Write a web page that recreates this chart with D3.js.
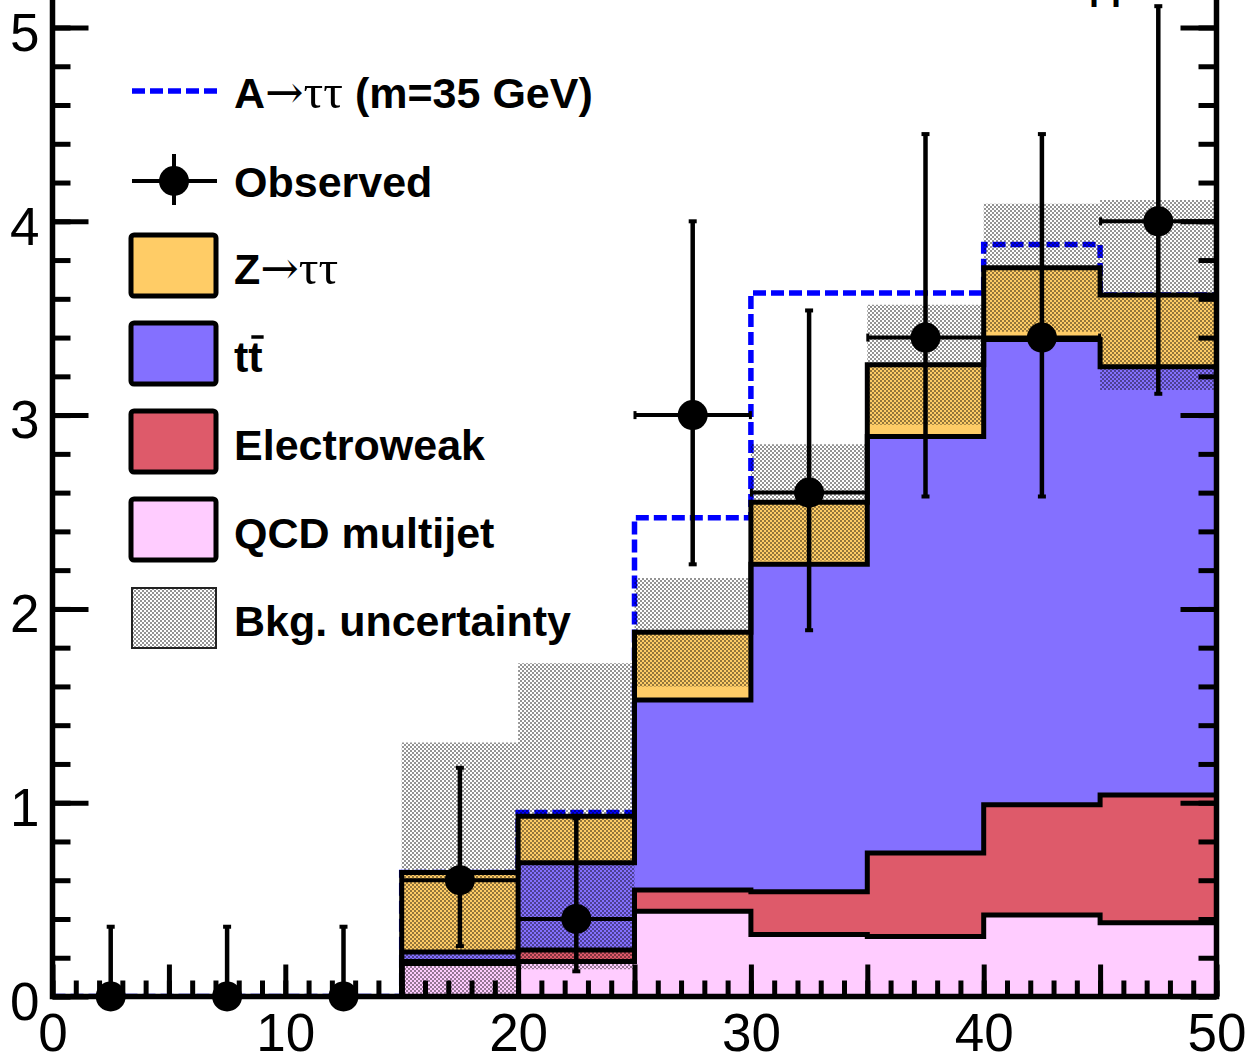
<!DOCTYPE html>
<html>
<head>
<meta charset="utf-8">
<script src="https://cdn.jsdelivr.net/npm/d3@7/dist/d3.min.js"></script>
<style>
    body { margin: 0; background: #ffffff; }
    svg { display: block; }
    text { font-family: "Liberation Sans", Arial, Helvetica, sans-serif; }
</style>
</head>
<body>
<div id="chart"></div>
<script>
"use strict";

const binEdges = [0, 5, 10, 15, 20, 25, 30, 35, 40, 45, 50];
const qcdMultijet = [0, 0, 0, 0.17, 0.18, 0.44, 0.32, 0.31, 0.42, 0.38];
const electroweak = [0, 0, 0, 0.01, 0.06, 0.11, 0.22, 0.43, 0.57, 0.66];
const ttbar = [0, 0, 0, 0.05, 0.45, 0.98, 1.69, 2.15, 2.40, 2.21];
const zTauTau = [0, 0, 0, 0.41, 0.24, 0.35, 0.32, 0.37, 0.37, 0.37];
const bkgUncertainty = [0, 0, 0, 0.67, 0.79, 0.28, 0.30, 0.31, 0.33, 0.49];
const signalA35 = [0, 0, 0, 0, 0.02, 0.59, 1.08, 0.37, 0.12, 0];
const observed = [0, 0, 0, 0.6, 0.4, 3.0, 2.6, 3.4, 3.4, 4.0];
const observedErrUp = [0.36, 0.36, 0.36, 0.58, 0.52, 1.0, 0.94, 1.05, 1.05, 1.11];
const observedErrDown = [0, 0, 0, 0.34, 0.27, 0.77, 0.71, 0.82, 0.82, 0.89];
const xTickLabels = [0, 10, 20, 30, 40, 50];
const yTickLabels = [0, 1, 2, 3, 4, 5];

const processKeys = ["qcd", "ew", "tt", "z"];
const processColors = {
    qcd: "#ffccff",
    ew : "#de5a6a",
    tt : "#8470ff",
    z  : "#ffcc66"
};

const W = 1247, H = 1057;
const x = d3.scaleLinear().domain([0, 50]).range([52.5, 1216.5]);
const y = d3.scaleLinear().domain([0, 5]).range([996.5, 27.5]);

const rows = binEdges.slice(0, -1).map((lo, i) => ({
    lo  : lo,
    hi  : binEdges[i + 1],
    qcd : qcdMultijet[i],
    ew  : electroweak[i],
    tt  : ttbar[i],
    z   : zTauTau[i],
    unc : bkgUncertainty[i],
    sig : signalA35[i],
    obs : observed[i],
    up  : observedErrUp[i],
    dn  : observedErrDown[i]
}));
const layers = d3.stack().keys(processKeys)(rows);
const total = layers[layers.length - 1].map(d => d[1]);

// each bin becomes two points so the paths come out as steps
const steps = (vals) => vals.flatMap((v, i) => [
    Object.assign({x: rows[i].lo, i: i}, v),
    Object.assign({x: rows[i].hi, i: i}, v)
]);

const svg = d3.select("#chart").append("svg")
              .attr("width", W)
              .attr("height", H);

const defs = svg.append("defs");
const checker = defs.append("pattern")
                    .attr("id", "checker")
                    .attr("patternUnits", "userSpaceOnUse")
                    .attr("width", 4)
                    .attr("height", 4);
checker.append("rect").attr("x", 0).attr("y", 0).attr("width", 2).attr("height", 2)
       .attr("fill", "rgba(0,0,0,0.42)");
checker.append("rect").attr("x", 2).attr("y", 2).attr("width", 2).attr("height", 2)
       .attr("fill", "rgba(0,0,0,0.42)");
defs.append("clipPath").attr("id", "plotclip")
    .append("rect")
    .attr("x", x(0)).attr("y", y(5.4))
    .attr("width", x(50) - x(0)).attr("height", y(0) - y(5.4));

const plot = svg.append("g").attr("clip-path", "url(#plotclip)");

// signal stacked on top of the total background, sits behind the stack
plot.append("path")
    .datum(steps(rows.map((r, i) => ({v: total[i] + r.sig}))))
    .attr("fill", "none")
    .attr("stroke", "#0000ff")
    .attr("stroke-width", 5.5)
    .attr("stroke-dasharray", "13,5")
    .attr("d", d3.line().x(d => x(d.x)).y(d => y(d.v)));

const area = d3.area()
               .x(d => x(d.x))
               .y0(d => y(d.y0))
               .y1(d => y(d.y1));
const topLine = d3.line()
                  .x(d => x(d.x))
                  .y(d => y(d.y1));

layers.forEach(layer => {
    const pts = steps(layer.map(d => ({y0: d[0], y1: d[1]})));
    plot.append("path")
        .datum(pts)
        .attr("fill", processColors[layer.key])
        .attr("stroke", processColors[layer.key])
        .attr("stroke-width", 0.6)
        .attr("d", area);
});
layers.forEach(layer => {
    const pts = steps(layer.map(d => ({y0: d[0], y1: d[1]})));
    plot.append("path")
        .datum(pts)
        .attr("fill", "none")
        .attr("stroke", "#000")
        .attr("stroke-width", 5)
        .attr("stroke-linejoin", "miter")
        .attr("d", topLine);
});

// background uncertainty band
plot.append("path")
    .datum(steps(rows.map((r, i) => ({
        y0 : Math.max(0, total[i] - r.unc),
        y1 : total[i] + r.unc,
        u  : r.unc
    }))))
    .attr("fill", "url(#checker)")
    .attr("d", area.defined(d => d.u > 0));

// frame and ticks
const axisStyle = g => {
    g.select(".domain").remove();
    g.selectAll(".tick line").attr("stroke", "#000").attr("stroke-width", 5);
    g.selectAll(".tick text")
     .attr("fill", "#000")
     .style("font-size", "53px")
     .style("font-family", "'Liberation Sans', Arial, sans-serif");
};
const bottom = svg.append("g").attr("transform", `translate(0,${y(0)})`);
bottom.append("g").call(d3.axisBottom(x).tickValues(d3.range(0, 51, 1)).tickSize(-16).tickFormat("")).call(axisStyle);
bottom.append("g").call(d3.axisBottom(x).tickValues(d3.range(0, 51, 5)).tickSize(-32).tickFormat("")).call(axisStyle);
bottom.append("g").call(d3.axisBottom(x).tickValues(xTickLabels).tickSize(0).tickPadding(17).tickFormat(d3.format("d"))).call(axisStyle);

const left = svg.append("g").attr("transform", `translate(${x(0)},0)`);
left.append("g").call(d3.axisLeft(y).tickValues(d3.range(0, 5.3, 0.2)).tickSize(-18).tickFormat("")).call(axisStyle);
left.append("g").call(d3.axisLeft(y).tickValues(yTickLabels).tickSize(-36).tickFormat("")).call(axisStyle);
left.append("g").call(d3.axisLeft(y).tickValues(yTickLabels).tickSize(0).tickPadding(13).tickFormat(d3.format("d")))
    .call(axisStyle)
    .call(g => g.selectAll(".tick text").attr("dy", "0.43em"));

const right = svg.append("g").attr("transform", `translate(${x(50)},0)`);
right.append("g").call(d3.axisRight(y).tickValues(d3.range(0, 5.3, 0.2)).tickSize(-18).tickFormat("")).call(axisStyle);
right.append("g").call(d3.axisRight(y).tickValues(yTickLabels).tickSize(-36).tickFormat("")).call(axisStyle);

svg.append("rect")
   .attr("x", x(0))
   .attr("y", y(5.4))
   .attr("width", x(50) - x(0))
   .attr("height", y(0) - y(5.4))
   .attr("fill", "none")
   .attr("stroke", "#000")
   .attr("stroke-width", 5.5);

// observed data
const pts = svg.append("g").selectAll("g").data(rows).enter().append("g");
pts.append("line")
   .attr("x1", d => x(d.lo)).attr("x2", d => x(d.hi))
   .attr("y1", d => y(d.obs)).attr("y2", d => y(d.obs))
   .attr("stroke", "#000").attr("stroke-width", 4);
pts.append("line")
   .attr("x1", d => x((d.lo + d.hi) / 2)).attr("x2", d => x((d.lo + d.hi) / 2))
   .attr("y1", d => y(d.obs - d.dn)).attr("y2", d => y(d.obs + d.up))
   .attr("stroke", "#000").attr("stroke-width", 4.5);
pts.append("rect")
   .attr("x", d => x((d.lo + d.hi) / 2) - 4).attr("y", d => y(d.obs + d.up) - 2)
   .attr("width", 8).attr("height", 4).attr("fill", "#000");
pts.filter(d => d.dn > 0).append("rect")
   .attr("x", d => x((d.lo + d.hi) / 2) - 4).attr("y", d => y(d.obs - d.dn) - 2)
   .attr("width", 8).attr("height", 4).attr("fill", "#000");
pts.filter(d => d.obs > 0).append("rect")
   .attr("x", d => x(d.lo) - 1).attr("y", d => y(d.obs) - 4)
   .attr("width", 3).attr("height", 8).attr("fill", "#000");
pts.filter(d => d.obs > 0).append("rect")
   .attr("x", d => x(d.hi) - 2).attr("y", d => y(d.obs) - 4)
   .attr("width", 3).attr("height", 8).attr("fill", "#000");
pts.append("circle")
   .attr("cx", d => x((d.lo + d.hi) / 2))
   .attr("cy", d => y(d.obs))
   .attr("r", 15)
   .attr("fill", "#000");

// legend
const legend = svg.append("g").attr("class", "legend");
const rowY = i => 93 + i * 88;
const textX = 234;
const labelFont = g => g.style("font-size", "43px").style("font-weight", "bold").attr("fill", "#000");
const tauPart = (t) => {
    t.append("tspan")
     .style("font-family", "'DejaVu Serif', serif")
     .style("font-weight", "normal")
     .style("font-size", "46px")
     .text("\u2192");
    t.append("tspan")
     .style("font-family", "'Liberation Serif', 'Times New Roman', serif")
     .style("font-weight", "normal")
     .style("font-size", "49px")
     .text("\u03c4\u03c4");
};

legend.append("line")
      .attr("x1", 132).attr("x2", 217).attr("y1", rowY(0) - 2).attr("y2", rowY(0) - 2)
      .attr("stroke", "#0000ff").attr("stroke-width", 5.5).attr("stroke-dasharray", "13,5");
const sigText = legend.append("text").attr("x", textX).attr("y", rowY(0) + 15).call(labelFont);
sigText.append("tspan").text("A");
tauPart(sigText);
sigText.append("tspan").text(" (m=35 GeV)");

legend.append("line")
      .attr("x1", 132).attr("x2", 217).attr("y1", rowY(1)).attr("y2", rowY(1))
      .attr("stroke", "#000").attr("stroke-width", 4);
legend.append("line")
      .attr("x1", 174).attr("x2", 174).attr("y1", rowY(1) - 27).attr("y2", rowY(1) + 24)
      .attr("stroke", "#000").attr("stroke-width", 4);
legend.append("circle").attr("cx", 174).attr("cy", rowY(1)).attr("r", 15).attr("fill", "#000");
legend.append("text").attr("x", textX).attr("y", rowY(1) + 16).call(labelFont).text("Observed");

const boxEntries = [
    {key: "z", row: 2},
    {key: "tt", row: 3},
    {key: "ew", row: 4},
    {key: "qcd", row: 5}
];
boxEntries.forEach(e => {
    legend.append("rect")
          .attr("x", 131).attr("y", rowY(e.row) - 34)
          .attr("width", 85).attr("height", 61)
          .attr("rx", 3)
          .attr("fill", processColors[e.key])
          .attr("stroke", "#000")
          .attr("stroke-width", 5);
});

const zText = legend.append("text").attr("x", textX).attr("y", rowY(2) + 15).call(labelFont);
zText.append("tspan").text("Z");
tauPart(zText);

const ttText = legend.append("text").attr("x", textX).attr("y", rowY(3) + 15).call(labelFont).text("tt");
const ttNode = ttText.node();
const t2start = textX + ttNode.getSubStringLength(0, 1);
const t2end = textX + ttNode.getComputedTextLength();
legend.append("line")
      .attr("x1", t2start + 3).attr("x2", t2end + 1)
      .attr("y1", rowY(3) - 20).attr("y2", rowY(3) - 20)
      .attr("stroke", "#000").attr("stroke-width", 3.5);

legend.append("text").attr("x", textX).attr("y", rowY(4) + 15).call(labelFont).text("Electroweak");
legend.append("text").attr("x", textX).attr("y", rowY(5) + 15).call(labelFont).text("QCD multijet");

legend.append("rect")
      .attr("x", 132).attr("y", rowY(6) - 33)
      .attr("width", 84).attr("height", 60)
      .attr("fill", "#ffffff")
      .attr("stroke", "#222").attr("stroke-width", 2);
legend.append("rect")
      .attr("x", 133).attr("y", rowY(6) - 32)
      .attr("width", 82).attr("height", 58)
      .attr("fill", "url(#checker)");
legend.append("text").attr("x", textX).attr("y", rowY(6) + 15).call(labelFont).text("Bkg. uncertainty");

// channel label, mostly above the visible area
svg.append("text")
   .attr("x", 1089).attr("y", -1)
   .style("font-size", "36px").style("font-weight", "bold")
   .text("\u03bc\u03bc");
</script>
</body>
</html>
